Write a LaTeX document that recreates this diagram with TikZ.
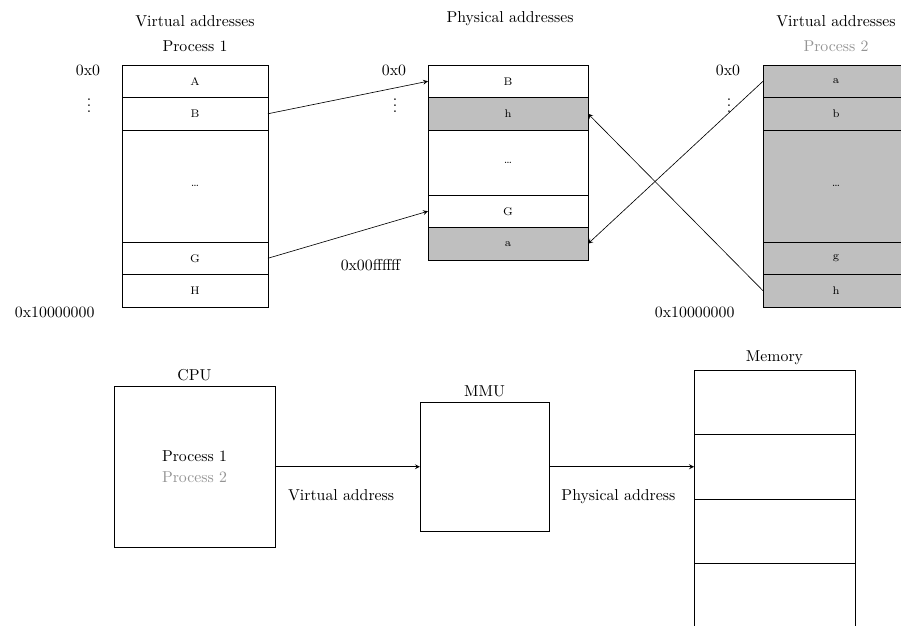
\documentclass[tikz,border=0pt]{standalone}
\usetikzlibrary{positioning}

\colorlet{proc2}{black!42}
\colorlet{mapped2}{black!25}

\tikzset{%
  cell/.style={
    draw,
    rectangle,
    inner sep=0pt,
    outer sep=0pt,
    minimum width=92.4pt,
    font=\scriptsize
  },
  mapped/.style={fill=mapped2},
  unit/.style={
    draw,
    rectangle,
    inner sep=0pt,
    outer sep=0pt,
    align=center
  },
}

\begin{document}
\begin{tikzpicture}[x=0.633pt, y=-0.633pt, >=stealth]
\clip (0,0) rectangle (901,626);
%=========================================================================================================
% Process 1 - virtual addresses
%=========================================================================================================

%Pages of process 1
\foreach \l/\y/\h [count=\i] in {A/81.25/20.6pt, B/113.75/20.6pt, \ldots/186/70.9pt, G/258.25/20.6pt, H/290.75/20.6pt}
  \node [cell, minimum height=\h] (virt1-\i) at (195,\y) {\l};

%=========================================================================================================
% Physical addresses
%=========================================================================================================

%Frames, the grey ones belong to process 2
\foreach \l/\y/\h/\s [count=\i] in {B/81.25/20.6pt/cell, h/113.75/20.6pt/mapped, \ldots/162.5/41.1pt/cell, G/211.25/20.6pt/cell, a/243.75/20.6pt/mapped}
  \node [cell, \s, minimum width=101.3pt, minimum height=\h] (phys-\i) at (508,\y) {\l};

%=========================================================================================================
% Process 2 - virtual addresses
%=========================================================================================================

%Pages of process 2
\foreach \l/\y/\h [count=\i] in {a/81.25/20.6pt, b/113.75/20.6pt, \ldots/186/70.9pt, g/258.25/20.6pt, h/290.75/20.6pt}
  \node [cell, mapped, minimum height=\h] (virt2-\i) at (836,\y) {\l};

%=========================================================================================================
% Headers and addresses
%=========================================================================================================
%headers
\foreach \l/\x/\y [count=\i] in {Virtual addresses/195/27, Physical addresses/510/23, Virtual addresses/836/27}
  \node [anchor=base] (head-\i) at (\x,\y) {\l};

\node [anchor=base] (name-1) at (195,52) {Process 1};
\node [anchor=base, text=proc2] (name-2) at (836,52) {Process 2};

%first address and dots left of each column
\foreach \x [count=\i] in {100,406,740}
{
  \node [anchor=east, inner sep=1pt] (start-\i) at (\x+2,70) {0x0};
  \node [inner sep=0pt] (dots-\i) at (\x-11,101) {$\vdots$};
}

%last addresses
\node [anchor=east] (end-1) at (100,312) {0x10000000};
\node [anchor=east] (end-2) at (406,265) {0x00ffffff};
\node [anchor=east] (end-3) at (740,312) {0x10000000};

%=========================================================================================================
% Draw mappings
%=========================================================================================================
\draw [->] (virt1-2.east) -- (phys-1.west);
\draw [->] (virt1-4.east) -- (phys-4.west);
\draw [->] (virt2-1.west) -- (phys-5.east);
\draw [->] (virt2-5.west) -- (phys-2.east);

%=========================================================================================================
% CPU, MMU and memory
%=========================================================================================================
\node [unit, minimum width=101.9pt, minimum height=101.9pt, label=above:CPU] (cpu) at (194.5,466.75)
  {Process 1\\[1pt]\textcolor{proc2}{Process 2}};

\node [unit, minimum width=81.7pt, minimum height=81.7pt, label=above:MMU] (mmu) at (484.5,466.75) {};

%Memory cells, the last one runs off the page
\foreach \i in {1,...,4}
  \node [unit, minimum width=101.9pt, minimum height=40.8pt] (mem-\i) at (774.5,{337.75+64.5*\i}) {};

\node [above] (mem-label) at (mem-1.north) {Memory};

\draw [->] (cpu) -- (mmu)
  node [midway, below=11pt, xshift=-4pt] {Virtual address};
\draw [->] (mmu) -- (mem-2)
  node [midway, below=11pt, xshift=-2pt] {Physical address};

\end{tikzpicture}
\end{document}
